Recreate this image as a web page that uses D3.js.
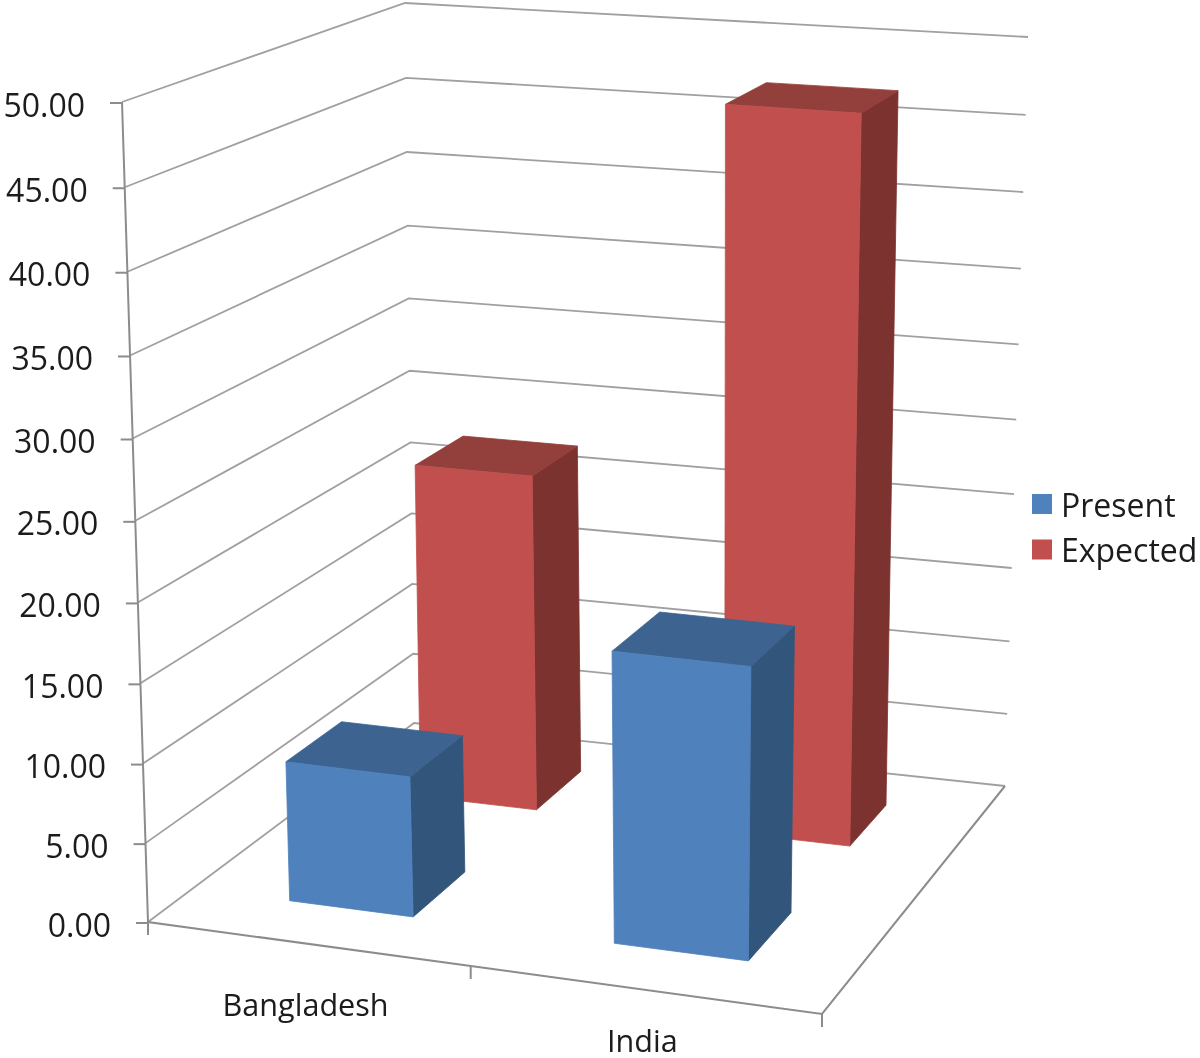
<!DOCTYPE html>
<html>
<head>
<meta charset="utf-8">
<script src="https://cdn.jsdelivr.net/npm/d3@7"></script>
<style>
  html, body { margin: 0; padding: 0; background: #fff; }
  text { font-family: "Open Sans", sans-serif; fill: #1a1a1a; }
</style>
</head>
<body>
<svg id="chart" width="1200" height="1058"></svg>
<script>
var categories = ["Bangladesh", "India"];
var seriesNames = ["Present", "Expected"];
var present = [8.9, 18.2];
var expected = [22.4, 47.2];
var yTicks = [0, 5, 10, 15, 20, 25, 30, 35, 40, 45, 50];

var colors = {
  Present: {front: "#4f81bd", top: "#3c6490", side: "#32547c"},
  Expected: {front: "#c0504d", top: "#93403d", side: "#7c312e"}
};

var root = d3.select("#chart");
// the reference is a soft, upscaled image
root.append("defs").append("filter")
    .attr("id", "soft")
  .append("feGaussianBlur")
    .attr("stdDeviation", 0.5);
var svg = root.append("g").attr("filter", "url(#soft)");

// corners of the box on screen, order: front-left, front-right, back-right, back-left
var floorQuad = [[148, 922], [822, 1014], [1005, 786], [414, 723]];
var topQuad = [[122, 102], [841, 161], [1028, 37], [405, 3]];
var kappa = 1.044; // the value axis opens up slightly towards the top

function quadMap(q) {
  var dx1 = q[1][0] - q[2][0], dx2 = q[3][0] - q[2][0], sx = q[0][0] - q[1][0] + q[2][0] - q[3][0],
      dy1 = q[1][1] - q[2][1], dy2 = q[3][1] - q[2][1], sy = q[0][1] - q[1][1] + q[2][1] - q[3][1],
      den = dx1 * dy2 - dx2 * dy1,
      g = (sx * dy2 - dx2 * sy) / den,
      h = (dx1 * sy - sx * dy1) / den,
      a = q[1][0] - q[0][0] + g * q[1][0],
      b = q[3][0] - q[0][0] + h * q[3][0],
      d = q[1][1] - q[0][1] + g * q[1][1],
      e = q[3][1] - q[0][1] + h * q[3][1];
  return function(u, w) {
    var k = g * u + h * w + 1;
    return [(a * u + b * w + q[0][0]) / k, (d * u + e * w + q[0][1]) / k];
  };
}
var floorMap = quadMap(floorQuad), topMap = quadMap(topQuad);

function project(u, w, t) {
  var f = t / (kappa + (1 - kappa) * t),
      p0 = floorMap(u, w), p1 = topMap(u, w);
  return [p0[0] + (p1[0] - p0[0]) * f, p0[1] + (p1[1] - p0[1]) * f];
}

var yScale = d3.scaleLinear().domain([0, 50]).range([0, 1]);
var xScale = d3.scaleBand().domain(categories).range([0.004, 1.004]).paddingInner(0.61).paddingOuter(0.305);
var zScale = d3.scaleBand().domain(seriesNames).range([0, 1]).paddingInner(0.6).paddingOuter(0.3);

var line = d3.line();

// gridlines on the two walls
var grid = svg.append("g").attr("fill", "none").attr("stroke", "#a0a0a0").attr("stroke-width", 1.8);
yTicks.forEach(function(v) {
  var t = yScale(v);
  grid.append("path").attr("d", line([project(0, 0, t), project(0, 1, t), project(1, 1, t)]));
});

// box edges
var axes = svg.append("g").attr("fill", "none").attr("stroke", "#8c8c8c").attr("stroke-width", 2);
axes.append("path").attr("d", line([project(0, 0, 1), project(0, 0, 0), project(1, 0, 0), project(1, 1, 0)]));

yTicks.forEach(function(v) {
  var pt = project(0, 0, yScale(v));
  axes.append("line").attr("x1", pt[0] - 12).attr("x2", pt[0]).attr("y1", pt[1] + 1).attr("y2", pt[1] + 1);
  svg.append("text")
    .attr("x", pt[0] - 37)
    .attr("y", pt[1] + 14.5)
    .attr("text-anchor", "end")
    .style("font-size", "32px")
    .text(d3.format(".2f")(v));
});

[0, 0.5, 1].forEach(function(u) {
  var pt = project(u, 0, 0);
  axes.append("line").attr("x1", pt[0]).attr("x2", pt[0]).attr("y1", pt[1]).attr("y2", pt[1] + 13);
});

categories.forEach(function(cat, i) {
  var pt = project(xScale(cat) + xScale.bandwidth() / 2, 0, 0);
  svg.append("text")
    .attr("x", pt[0] - 3)
    .attr("y", pt[1] + 72 - i * 10)
    .attr("text-anchor", "middle")
    .style("font-size", "30.6px")
    .text(cat);
});

function drawBar(parent, cat, name, value) {
  var u0 = xScale(cat), u1 = u0 + xScale.bandwidth(),
      w0 = zScale(name), w1 = w0 + zScale.bandwidth(),
      t = yScale(value), col = colors[name];
  var faces = [
    {fill: col.side, pts: [[u1, w0, 0], [u1, w1, 0], [u1, w1, t], [u1, w0, t]]},
    {fill: col.top, pts: [[u0, w0, t], [u1, w0, t], [u1, w1, t], [u0, w1, t]]},
    {fill: col.front, pts: [[u0, w0, 0], [u1, w0, 0], [u1, w0, t], [u0, w0, t]]}
  ];
  parent.selectAll(null)
    .data(faces)
    .enter().append("path")
      .attr("fill", function(f) { return f.fill; })
      .attr("stroke", function(f) { return f.fill; })
      .attr("stroke-width", 0.8)
      .attr("d", function(f) {
        return line(f.pts.map(function(c) { return project(c[0], c[1], c[2]); })) + "Z";
      });
}

// back row first so the front row sits over it
var bars = svg.append("g");
categories.forEach(function(cat, i) { drawBar(bars, cat, "Expected", expected[i]); });
categories.forEach(function(cat, i) { drawBar(bars, cat, "Present", present[i]); });

var legend = svg.append("g").selectAll("g")
    .data(seriesNames)
    .enter().append("g")
      .attr("transform", function(d, i) { return "translate(1032," + (494 + i * 45.5) + ")"; });
legend.append("rect")
    .attr("width", 20)
    .attr("height", 20)
    .attr("fill", function(d) { return colors[d].front; });
legend.append("text")
    .attr("x", 29)
    .attr("y", 22.5)
    .style("font-size", "32px")
    .text(function(d) { return d; });
</script>
</body>
</html>
